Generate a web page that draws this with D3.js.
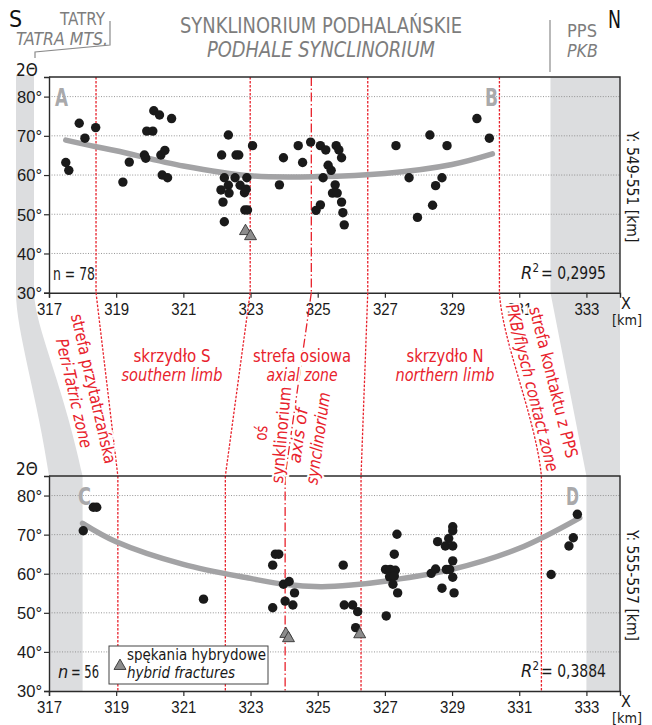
<!DOCTYPE html>
<html>
<head>
<meta charset="utf-8">
<script src="https://cdn.jsdelivr.net/npm/d3@7"></script>
<style>
  body { margin: 0; background: #fff; }
  svg  { font-family: "Liberation Sans Narrow", "DejaVu Sans Condensed", Roboto, sans-serif; }
</style>
</head>
<body>
<svg id="chart" width="652" height="725"></svg>
<script>
// ── Data ─────────────────────────────────────────────────────────────────────

// upper profile, Y: 549-551 km  [X km, 2Θ deg]
const topPoints = [
  [317.50, 63.2], [317.59, 61.2], [317.90, 73.2], [318.07, 69.4], [318.39, 72.1],
  [319.20, 58.2], [319.39, 63.3], [319.84, 65.1], [319.88, 64.3], [319.91, 71.2],
  [320.09, 71.2], [320.12, 76.4], [320.29, 75.3], [320.33, 65.1], [320.45, 66.3],
  [320.37, 60.0], [320.53, 59.3], [320.65, 74.4],
  [322.14, 65.1], [322.34, 70.2], [322.57, 65.1], [322.65, 65.1], [323.06, 67.5],
  [322.22, 59.3], [322.54, 59.3], [322.89, 59.3], [322.12, 56.2], [322.34, 57.4],
  [322.36, 55.4], [322.69, 57.4], [322.82, 55.5], [322.87, 56.4], [322.18, 53.1],
  [322.83, 51.1], [322.91, 51.1], [322.22, 48.1],
  [323.86, 57.5], [323.98, 64.4], [324.42, 67.5], [324.55, 63.2], [324.79, 68.4],
  [325.08, 67.5], [325.24, 66.4], [325.55, 67.5], [325.63, 66.4], [325.71, 64.4],
  [325.31, 62.5], [325.40, 61.2], [325.16, 59.3], [325.52, 57.5], [325.44, 55.4],
  [325.58, 55.4], [325.71, 53.1], [325.08, 52.4], [324.95, 51.0], [325.75, 50.4],
  [325.79, 47.3],
  [327.33, 67.5], [327.72, 59.3], [327.97, 49.2], [328.34, 70.2], [328.42, 52.3],
  [328.51, 57.3], [328.70, 59.3], [328.85, 67.5], [329.74, 74.4], [330.11, 69.4]
];
const topHybrid = [[322.85, 45.7], [323.00, 44.4]];
const topTrend = [
  [317.5, 68.9], [318.4, 67.2], [319, 66.2], [321, 62.3], [323, 59.8],
  [325, 59.6], [327, 60.4], [329, 62.7], [330.2, 65.4]
];

// lower profile, Y: 555-557 km
const bottomPoints = [
  [318.02, 71.0], [318.32, 77.0], [318.42, 77.0], [321.60, 53.5],
  [323.66, 62.2], [323.74, 65.0], [323.84, 65.0], [323.98, 57.3], [324.15, 58.0],
  [324.31, 55.1], [324.03, 53.0], [324.26, 52.0], [323.66, 51.3],
  [325.76, 62.2], [325.79, 52.0], [326.04, 52.0], [326.19, 50.3], [326.13, 46.2],
  [327.36, 70.1], [327.28, 65.0], [327.02, 61.1], [327.16, 61.1], [327.31, 60.9],
  [327.14, 59.2], [327.28, 59.4], [327.24, 57.3], [327.38, 55.1], [327.04, 49.2],
  [328.38, 60.1], [328.51, 61.2], [328.57, 68.2], [328.70, 56.3], [328.80, 67.1],
  [328.90, 69.0], [329.02, 67.1], [329.02, 72.0], [329.02, 71.0], [328.83, 61.1],
  [328.93, 61.1], [329.02, 63.3], [329.02, 59.1], [329.06, 55.1],
  [331.95, 59.8], [332.48, 67.1], [332.61, 69.2], [332.73, 75.2]
];
const bottomHybrid = [[324.05, 44.6], [324.13, 43.5], [326.25, 44.5]];
const bottomTrend = [
  [318.0, 72.9], [319, 68.2], [321, 62.4], [323, 58.8], [324, 57.3],
  [325.1, 56.7], [326, 57.1], [327, 58.1], [329, 61.1], [331, 66.5], [332.8, 74.3]
];

// zone boundaries, X km at the upper and at the lower profile
const zoneTop    = [318.40, 322.99, 324.81, 326.49, 330.41];
const zoneBottom = [319.05, 322.25, 324.03, 326.29, 331.66];
const axisIndex  = 2;

const xTicks = [317, 319, 321, 323, 325, 327, 329, 331, 333];
const yTicks = [30, 40, 50, 60, 70, 80];
const gridTicks = [40, 50, 60, 70, 80];

// ── Setup ────────────────────────────────────────────────────────────────────

const RED = "#e8222c", GREY_TXT = "#7d7d7d", BAND = "#dcdddf", INK = "#1a1a1a";
const svg = d3.select("#chart");

// squeeze a text to the width it has in the (condensed-font) original
function fit(sel, w) {
  return sel.attr("textLength", w).attr("lengthAdjust", "spacingAndGlyphs");
}

const x = d3.scaleLinear().domain([317, 334]).range([49, 620]);
const panels = [
  { y: d3.scaleLinear().domain([30, 85]).range([292.7, 77]),
    pts: topPoints, hyb: topHybrid, trend: topTrend, zones: zoneTop,
    letters: [["A", 55, 106], ["B", 485, 106]],
    italicN: false, nText: "n = 78", r2: "= 0,2995", ylab: "Y: 549-551 [km]" },
  { y: d3.scaleLinear().domain([30, 85]).range([691, 476]),
    pts: bottomPoints, hyb: bottomHybrid, trend: bottomTrend, zones: zoneBottom,
    letters: [["C", 78, 505], ["D", 566, 505]],
    italicN: true, nText: "= 56", r2: "= 0,3884", ylab: "Y: 555-557 [km]" }
];
const [P1, P2] = panels;
const yTop = P1.y, yBot = P2.y;

// ── Grey bands (Tatra side / PKB side) ───────────────────────────────────────

svg.append("path")
  .attr("fill", BAND)
  .attr("d", `M16,75 L34,75 L34,${yTop(30)} C36,330 62,380 ${x(318)},${yBot(85)}
              L${x(317)},${yBot(85)} C38,400 16,330 16,${yTop(30)} Z`);
svg.append("rect").attr("fill", BAND)
  .attr("x", x(317)).attr("width", x(318) - x(317))
  .attr("y", yBot(85)).attr("height", yBot(30) - yBot(85));

svg.append("path").attr("fill", BAND)
  .attr("d", `M${x(331.93)},${yTop(85)} L${x(334)},${yTop(85)} L${x(334)},${yBot(30)}
              L${x(333)},${yBot(30)} L${x(333)},${yBot(85)} L${x(331.93)},${yTop(30)} Z`);

// ── Panels: grid, zones, trend, points ───────────────────────────────────────

const trendLine = p => d3.line()
  .x(d => x(d[0])).y(d => p.y(d[1]))
  .curve(d3.curveCatmullRom.alpha(0.5));

panels.forEach(p => {
  const g = svg.append("g");

  g.selectAll(".grid").data(gridTicks).join("line")
    .attr("x1", x(317)).attr("x2", x(334))
    .attr("y1", d => p.y(d)).attr("y2", d => p.y(d))
    .attr("stroke", "#8a8a8a").attr("stroke-width", 0.9)
    .attr("stroke-dasharray", "1,1.6");

  g.selectAll(".zone").data(p.zones).join("line")
    .attr("x1", d => x(d)).attr("x2", d => x(d))
    .attr("y1", p.y(85)).attr("y2", p.y(30))
    .attr("stroke", RED).attr("stroke-width", 1.3)
    .attr("stroke-dasharray", (d, i) => i === axisIndex ? "9,2.5,1.5,2.5" : "2.5,1.5");

  g.append("path").datum(p.trend)
    .attr("fill", "none").attr("stroke", "#a3a3a5")
    .attr("stroke-width", 5.5).attr("stroke-linecap", "round")
    .attr("d", trendLine(p));

  g.selectAll(".pt").data(p.pts).join("circle")
    .attr("cx", d => x(d[0])).attr("cy", d => p.y(d[1]))
    .attr("r", 4.7).attr("fill", INK);

  g.selectAll(".hyb").data(p.hyb).join("path")
    .attr("transform", d => `translate(${x(d[0])},${p.y(d[1])})`)
    .attr("d", d3.symbol(d3.symbolTriangle, 62)())
    .attr("fill", "#8c8c8c").attr("stroke", "#333").attr("stroke-width", 0.9);

  // frame + axes
  g.append("path")
    .attr("fill", "none").attr("stroke", "#2b2b2b").attr("stroke-width", 1.4)
    .attr("d", `M${x(317)},${p.y(85)} H${x(334)} V${p.y(30)}`);

  const ax = g.append("g").attr("transform", `translate(0,${p.y(30)})`)
    .call(d3.axisBottom(x).tickValues(xTicks).tickSize(5).tickPadding(4).tickFormat(d3.format("d")));
  const ay = g.append("g").attr("transform", `translate(${x(317)},0)`)
    .call(d3.axisLeft(p.y).tickValues(yTicks).tickSize(5).tickPadding(2).tickFormat(d => d + "°"));
  [ax, ay].forEach(a => {
    a.select(".domain").attr("stroke", "#2b2b2b").attr("stroke-width", 1.4);
    a.selectAll(".tick line").attr("stroke", "#2b2b2b").attr("stroke-width", 1.2);
    a.selectAll("text").attr("fill", INK).style("font-size", "16.5px")
      .style("font-family", "inherit");
  });
  fit(ax.selectAll("text").attr("dy", "0.78em"), 25);
  fit(ay.selectAll("text").attr("dy", "0.36em"), 25);

  g.append("text").attr("x", 16).attr("y", p.y(85) - 1)
    .attr("fill", INK).style("font-size", "17px").text("2Θ");

  p.letters.forEach(([t, lx, ly]) => {
    fit(g.append("text").attr("x", lx).attr("y", ly)
      .attr("fill", "#a9a9ab").style("font-size", "25px").style("font-weight", "bold")
      .text(t), 13);
  });

  // sample size
  const base = p.y(30) - 13;
  if (p.italicN) {
    g.append("text").attr("x", 58).attr("y", base).attr("fill", INK)
      .style("font-size", "18px").style("font-style", "italic").text("n");
    fit(g.append("text").attr("x", 71).attr("y", base).attr("fill", INK)
      .style("font-size", "18px").text(p.nText), 28);
  } else {
    fit(g.append("text").attr("x", 53).attr("y", base).attr("fill", INK)
      .style("font-size", "18px").text(p.nText), 42);
  }

  // R²
  g.append("text").attr("x", 521).attr("y", base - 1).attr("fill", INK)
    .style("font-size", "18px").style("font-style", "italic").text("R");
  g.append("text").attr("x", 532.5).attr("y", base - 8).attr("fill", INK)
    .style("font-size", "11.5px").text("2");
  fit(g.append("text").attr("x", 541).attr("y", base - 1).attr("fill", INK)
    .style("font-size", "18px").text(p.r2), 65);

  fit(g.append("text")
    .attr("transform", `translate(627,${(p.y(85) + p.y(30)) / 2 + 2}) rotate(90)`)
    .attr("text-anchor", "middle").attr("fill", INK).style("font-size", "16.5px")
    .text(p.ylab), 111);

  g.append("text").attr("x", 626).attr("y", p.y(30) + 16).attr("text-anchor", "middle")
    .attr("fill", INK).style("font-size", "16px").text("X");
  fit(g.append("text").attr("x", 627).attr("y", p.y(30) + 32).attr("text-anchor", "middle")
    .attr("fill", INK).style("font-size", "14.5px").text("[km]"), 30);
});

// ── Connectors between the two profiles ──────────────────────────────────────

zoneTop.forEach((t, i) => {
  const x0 = x(t), x1 = x(zoneBottom[i]), y0 = yTop(30), y1 = yBot(85);
  const d = i === zoneTop.length - 1
    ? `M${x0},${y0} C${x0 + 3},${y0 + 50} ${x1 - 6},${y1 - 60} ${x1},${y1}`
    : `M${x0},${y0} L${x1},${y1}`;
  svg.append("path").attr("d", d).attr("fill", "none")
    .attr("stroke", RED).attr("stroke-width", 1.3)
    .attr("stroke-dasharray", i === axisIndex ? "9,2.5,1.5,2.5" : "2.5,1.5");
});

// ── Zone labels (white halo hides the lines behind them) ─────────────────────

function label(cx, cy, angle, lines, spacing) {
  const g = svg.append("g").attr("transform", `translate(${cx},${cy}) rotate(${angle})`);
  lines.forEach(([txt, italic, w], k) => {
    fit(g.append("text")
      .attr("y", (k - (lines.length - 1) / 2) * spacing + 6)
      .attr("text-anchor", "middle")
      .attr("fill", RED).attr("stroke", "#fff").attr("stroke-width", 4)
      .attr("paint-order", "stroke")
      .style("font-size", "17px").style("font-style", italic ? "italic" : "normal")
      .text(txt), w);
  });
}

label(84, 391, 77,  [["strefa przytatrzańska", false, 153], ["Peri-Tatric zone", true, 112]], 20);
label(172, 365, 0,  [["skrzydło S", false, 77], ["southern limb", true, 101]], 19);
label(302, 365, 0,  [["strefa osiowa", false, 98], ["axial zone", true, 71]], 19);
label(445, 365, 0,  [["skrzydło N", false, 77], ["northern limb", true, 99]], 19);
label(271, 434, -85, [["oś", false, 15], ["synklinorium", false, 97]], 20);
label(308, 437, -82, [["axis of", true, 55], ["synclinorium", true, 93]], 20);
label(543, 385, 76, [["strefa kontaktu z PPS", false, 155], ["PKB/flysch contact zone", true, 172]], 22);

// ── Legend ───────────────────────────────────────────────────────────────────

const lg = svg.append("g");
lg.append("rect").attr("x", 109).attr("y", 646).attr("width", 159).attr("height", 38)
  .attr("fill", "#fff").attr("stroke", "#444").attr("stroke-width", 1);
lg.append("path").attr("transform", "translate(120,666)")
  .attr("d", d3.symbol(d3.symbolTriangle, 62)())
  .attr("fill", "#8c8c8c").attr("stroke", "#333").attr("stroke-width", 0.9);
fit(lg.append("text").attr("x", 127).attr("y", 660).attr("fill", INK)
  .style("font-size", "15px").text("spękania hybrydowe"), 139);
fit(lg.append("text").attr("x", 127).attr("y", 678).attr("fill", INK)
  .style("font-size", "15px").style("font-style", "italic").text("hybrid fractures"), 108);

// ── Header ───────────────────────────────────────────────────────────────────

const hd = svg.append("g");
fit(hd.append("text").attr("x", 180).attr("y", 33)
  .attr("fill", GREY_TXT).style("font-size", "22px").text("SYNKLINORIUM PODHALAŃSKIE"), 282);
fit(hd.append("text").attr("x", 207).attr("y", 57)
  .attr("fill", GREY_TXT).style("font-size", "22px").style("font-style", "italic")
  .text("PODHALE SYNCLINORIUM"), 228);

hd.append("text").attr("x", 9).attr("y", 27).attr("fill", "#111")
  .style("font-size", "23px").text("S");
fit(hd.append("text").attr("x", 60).attr("y", 25)
  .attr("fill", GREY_TXT).style("font-size", "18px").text("TATRY"), 45);
fit(hd.append("text").attr("x", 16).attr("y", 45)
  .attr("fill", GREY_TXT).style("font-size", "18px").style("font-style", "italic")
  .text("TATRA MTS."), 92);
hd.append("path").attr("fill", "none").attr("stroke", "#8a8a8a").attr("stroke-width", 1.2)
  .attr("d", "M110,21 V45 L35,52 V58");

hd.append("path").attr("stroke", "#8a8a8a").attr("stroke-width", 1.2)
  .attr("d", "M550,20 V72");
fit(hd.append("text").attr("x", 567).attr("y", 37).attr("fill", GREY_TXT)
  .style("font-size", "18px").text("PPS"), 30);
fit(hd.append("text").attr("x", 567).attr("y", 57).attr("fill", GREY_TXT)
  .style("font-size", "18px").style("font-style", "italic").text("PKB"), 31);
fit(hd.append("text").attr("x", 608).attr("y", 28).attr("fill", "#111")
  .style("font-size", "24px").text("N"), 13);
</script>
</body>
</html>
